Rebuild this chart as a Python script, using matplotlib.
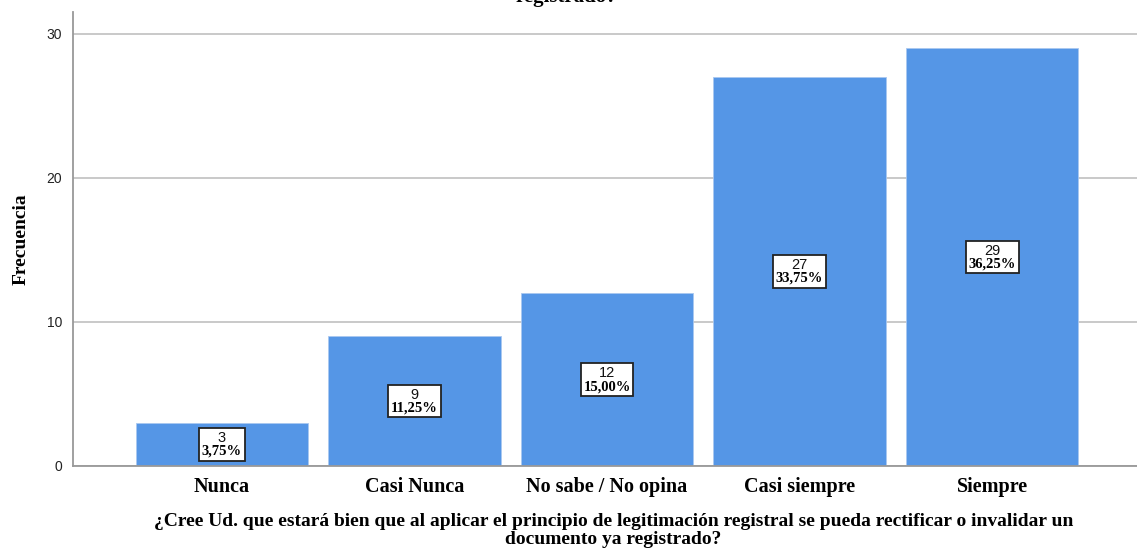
import numpy as np
import matplotlib.pyplot as plt
from matplotlib.offsetbox import TextArea, VPacker, AnnotationBbox

categorias = ['Nunca', 'Casi Nunca', 'No sabe / No opina', 'Casi siempre', 'Siempre']
frecuencias = [3, 9, 12, 27, 29]
porcentajes = ['3,75%', '11,25%', '15,00%', '33,75%', '36,25%']
yticks = [0, 10, 20, 30]

serif = 'Liberation Serif'
sans = 'Liberation Sans'

fig = plt.figure(figsize=(11.37, 5.52), dpi=100)
ax = fig.add_axes([0.0642, 0.1558, 0.9358, 0.8222])

x = np.arange(len(categorias))
ax.bar(x, frecuencias, width=0.894, color='#5596e6', edgecolor='#a9c8f0', linewidth=0.6, zorder=2)

# etiquetas con recuento y porcentaje dentro de un marco
for xi, f, p in zip(x, frecuencias, porcentajes):
    t1 = TextArea(str(f), textprops=dict(fontsize=10.5, family=sans, color='#111111'))
    t2 = TextArea(p, textprops=dict(fontsize=10.5, family=serif, weight='bold'))
    caja = VPacker(children=[t1, t2], align='center', pad=0, sep=0)
    ab = AnnotationBbox(caja, (xi, f / 2), frameon=True, pad=0.2, zorder=4,
                        bboxprops=dict(boxstyle='square,pad=0.2', fc='white', ec='#222222', lw=1.3))
    ax.add_artist(ab)

ax.set_xlim(-0.774, 4.753)
ax.set_ylim(0, 31.5)
ax.set_yticks(yticks)
ax.set_yticklabels([str(v) for v in yticks], family=sans, fontsize=10, color='#222222')
ax.set_xticks(x)
ax.set_xticklabels(categorias, family=serif, weight='bold', fontsize=14.5)
ax.tick_params(axis='both', length=0, pad=8)
ax.tick_params(axis='x', pad=8)

ax.grid(axis='y', color='#c0c0c0', linewidth=1.2, zorder=0)
for s in ['top', 'right']:
    ax.spines[s].set_visible(False)
for s in ['left', 'bottom']:
    ax.spines[s].set_color('#999999')
    ax.spines[s].set_linewidth(1.3)

ax.set_ylabel('Frecuencia', family=serif, weight='bold', fontsize=14, labelpad=12)
ax.set_xlabel('¿Cree Ud. que estará bien que al aplicar el principio de legitimación registral se pueda rectificar o invalidar un\ndocumento ya registrado?',
              family=serif, weight='bold', fontsize=14, linespacing=1.05)
ax.xaxis.set_label_coords(0.508, -0.104)
ax.xaxis.label.set_va('top')

# título recortado en la parte superior
fig.text(0.498, 1 - 2 / 552, 'registrado?', ha='center', va='baseline',
         family=serif, weight='bold', fontsize=15)

fig.savefig('out.png', dpi=100)
